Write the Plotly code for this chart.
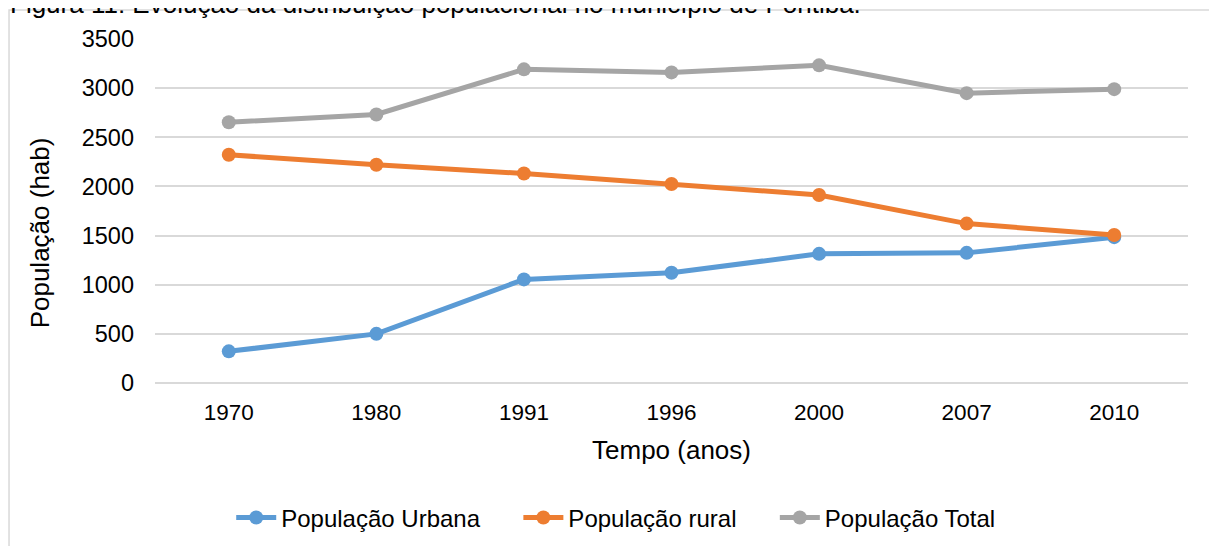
import plotly.graph_objects as go

# Dados
anos = ["1970", "1980", "1991", "1996", "2000", "2007", "2010"]
pop_urbana = [322, 500, 1054, 1122, 1314, 1324, 1484]
pop_rural = [2322, 2220, 2132, 2024, 1913, 1622, 1506]
pop_total = [2653, 2732, 3191, 3160, 3232, 2949, 2990]

nomes = ["População Urbana", "População rural", "População Total"]
cores = ["#5B9BD5", "#ED7D31", "#A5A5A5"]

FONTE = "Liberation Sans, Arial, sans-serif"
ESPACO = "\u00a0" * 5  # espaço entre itens da legenda

fig = go.Figure()
for i, (nome, valores, cor) in enumerate(zip(nomes, [pop_urbana, pop_rural, pop_total], cores)):
    rotulo = nome + (ESPACO if i < 2 else "")
    fig.add_trace(go.Scatter(x=anos, y=valores, name=rotulo, mode="lines+markers",
                             line=dict(color=cor, width=5),
                             marker=dict(color=cor, size=14)))

# Legenda da figura (cortada no topo da imagem original)
fig.add_annotation(text="Figura 11: Evolução da distribuição populacional no município de Pontiba.",
                   xref="paper", yref="paper", x=-0.1425, y=1, xanchor="left", yanchor="middle",
                   yshift=35.5, showarrow=False, font=dict(size=26, color="#000000"))

# Título do eixo y
fig.add_annotation(text="População (hab)", xref="paper", yref="paper", x=-0.111, y=0.436,
                   xanchor="center", yanchor="middle",
                   textangle=-90, showarrow=False, font=dict(size=26, color="#000000"))

# moldura do gráfico
fig.add_shape(type="rect", xref="paper", yref="paper", x0=-0.1413, y0=-0.52, x1=1.04, y1=1.0843,
              line=dict(color="#D9D9D9", width=1.5), layer="below")

fig.update_layout(
    width=1209, height=546,
    margin=dict(l=147, r=29, t=31, b=171),
    paper_bgcolor="white", plot_bgcolor="white",
    font=dict(family=FONTE, size=22.5, color="#000000"),
    legend=dict(orientation="h", x=0.446, xanchor="center", y=-0.392, yanchor="middle",
                font=dict(size=24), itemwidth=40),
)
fig.update_xaxes(type="category", range=[-0.5, 6.5], showgrid=False, showline=False,
                 ticks="", ticklabelstandoff=13,
                 title=dict(text="Tempo (anos)", font=dict(size=26), standoff=17))
fig.update_yaxes(range=[0, 3500], dtick=500, showgrid=True, gridcolor="#D9D9D9", gridwidth=1.5,
                 zeroline=True, zerolinecolor="#D9D9D9", zerolinewidth=1.5,
                 ticks="", ticklabelstandoff=20, tickfont=dict(size=23.5))

fig.write_html("out.html")
